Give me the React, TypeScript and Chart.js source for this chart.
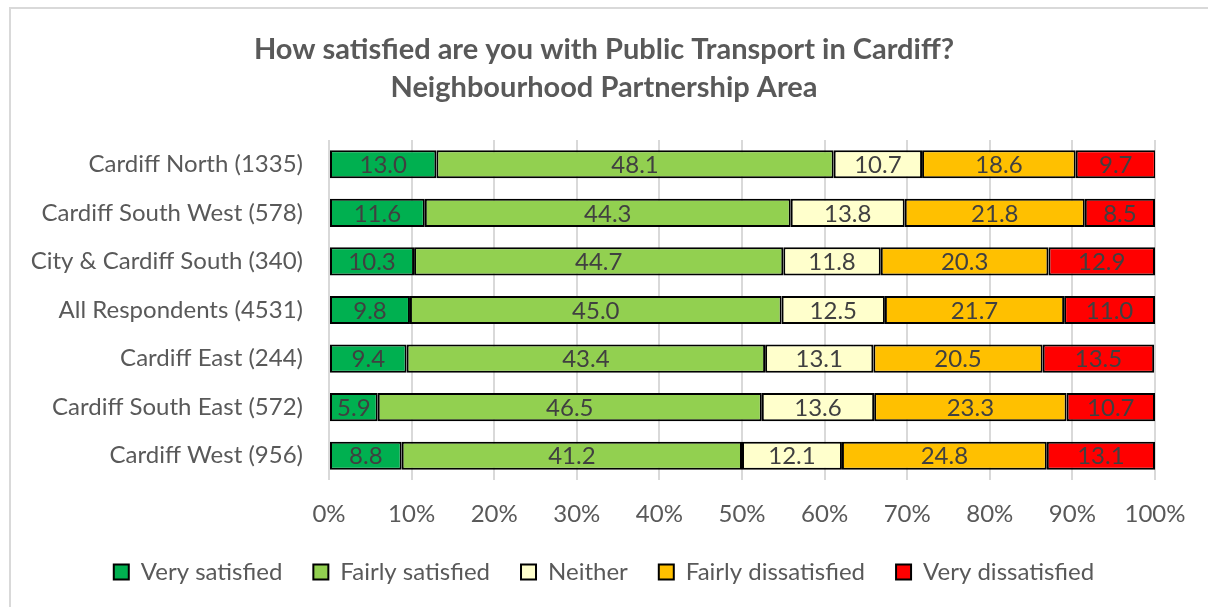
import { useEffect, useRef } from 'react';
import { Chart, registerables } from 'chart.js';

Chart.register(...registerables);

const categories = [
  'Cardiff North (1335)',
  'Cardiff South West (578)',
  'City & Cardiff South (340)',
  'All Respondents (4531)',
  'Cardiff East (244)',
  'Cardiff South East (572)',
  'Cardiff West (956)',
];
const seriesNames = ['Very satisfied', 'Fairly satisfied', 'Neither', 'Fairly dissatisfied', 'Very dissatisfied'];
const verySatisfied = [13.0, 11.6, 10.3, 9.8, 9.4, 5.9, 8.8];
const fairlySatisfied = [48.1, 44.3, 44.7, 45.0, 43.4, 46.5, 41.2];
const neither = [10.7, 13.8, 11.8, 12.5, 13.1, 13.6, 12.1];
const fairlyDissatisfied = [18.6, 21.8, 20.3, 21.7, 20.5, 23.3, 24.8];
const veryDissatisfied = [9.7, 8.5, 12.9, 11.0, 13.5, 10.7, 13.1];
const seriesColors = ['#00b050', '#92d050', '#ffffcc', '#ffc000', '#ff0000'];
const titleLines = ['How satisfied are you with Public Transport in Cardiff?', 'Neighbourhood Partnership Area'];

const FONT = 'Lato, "Open Sans", sans-serif';

const dataLabelPlugin = {
  id: 'dataLabels',
  afterDatasetsDraw(chart: any) {
    const ctx = chart.ctx;
    ctx.save();
    ctx.font = `24px ${FONT}`;
    ctx.fillStyle = '#404040';
    ctx.textAlign = 'center';
    ctx.textBaseline = 'middle';
    chart.data.datasets.forEach((ds: any, i: number) => {
      const meta = chart.getDatasetMeta(i);
      meta.data.forEach((el: any, j: number) => {
        const v = ds.data[j];
        const cx = (el.x + el.base) / 2;
        ctx.fillText(Number(v).toFixed(1), cx, el.y + 1);
      });
    });
    ctx.restore();
  },
};

export default function App() {
  const ref = useRef<HTMLCanvasElement | null>(null);
  useEffect(() => {
    if (!ref.current) return;
    const all = [verySatisfied, fairlySatisfied, neither, fairlyDissatisfied, veryDissatisfied];
    const chart = new Chart(ref.current, {
      type: 'bar',
      data: {
        labels: categories,
        datasets: all.map((d, i) => ({
          label: seriesNames[i],
          data: d,
          backgroundColor: seriesColors[i],
          borderColor: '#000000',
          borderWidth: 2,
          borderSkipped: false,
          categoryPercentage: 0.58,
          barPercentage: 1,
        })),
      },
      options: {
        indexAxis: 'y',
        animation: false,
        responsive: false,
        maintainAspectRatio: false,
        layout: { padding: { left: 0, right: 0, top: 0, bottom: 13 } },
        scales: {
          x: {
            stacked: true,
            min: 0,
            max: 100,
            ticks: {
              stepSize: 10,
              callback: (v: any) => v + '%',
              color: '#595959',
              font: { family: FONT, size: 24 },
              padding: 20,
            },
            grid: { color: '#d9d9d9', lineWidth: 2, drawTicks: false },
            border: { display: false },
            afterFit: (s: any) => {
              s.height = 49;
              s.paddingRight = 53;
            },
          },
          y: {
            stacked: true,
            ticks: {
              color: '#595959',
              font: { family: FONT, size: 24 },
              padding: 26,
            },
            grid: { display: false, drawTicks: false },
            border: { display: false },
            afterFit: (s: any) => {
              s.width = 329;
            },
          },
        },
        plugins: {
          title: {
            display: true,
            text: titleLines,
            color: '#595959',
            font: { family: FONT, size: 29, weight: 'bold', lineHeight: 1.31 },
            padding: { top: 31, bottom: 33 },
          },
          legend: {
            position: 'bottom',
            labels: {
              color: '#595959',
              font: { family: FONT, size: 24 },
              boxWidth: 15,
              boxHeight: 15,
              padding: 31,
            },
          },
          tooltip: { enabled: false },
        },
      },
      plugins: [dataLabelPlugin],
    } as any);
    return () => chart.destroy();
  }, []);
  return (
    <div style={{ position: 'fixed', left: 0, top: 0, width: 1208, height: 607, overflow: 'hidden', background: '#fff' }}>
      <div style={{ position: 'absolute', left: 9, top: 7, width: 1400, height: 800, border: '2px solid #d9d9d9' }} />
      <canvas ref={ref} width={1208} height={607} style={{ position: 'absolute', left: 0, top: 0 }} />
    </div>
  );
}
